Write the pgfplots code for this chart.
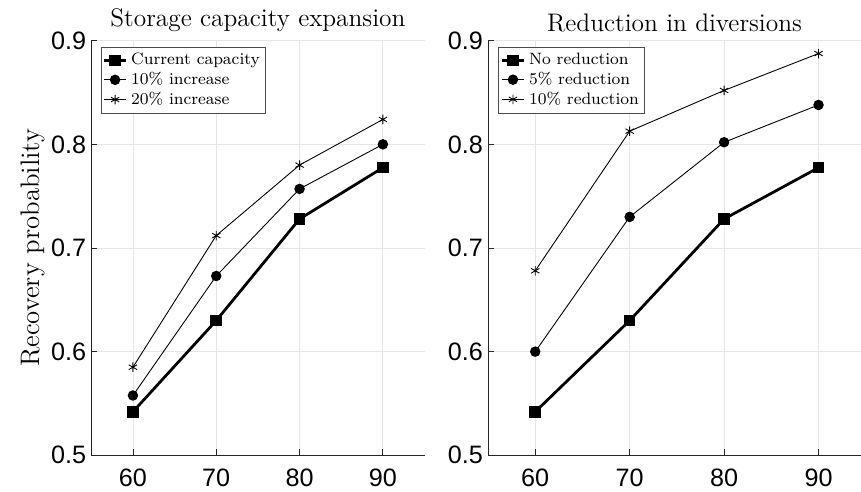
\documentclass[border=0pt]{standalone}
\usepackage{fontspec}
\newfontfamily\ticksf{Liberation Sans}
\usepackage{pgfplots}
\pgfplotsset{compat=1.18}
\definecolor{gridc}{HTML}{E6E6E6}
\definecolor{axc}{HTML}{262626}

\pgfplotsset{
  panel/.style={
    scale only axis,
    height=209pt,
    xmin=55, ymin=0.5, ymax=0.9,
    xtick={60,70,80,90}, ytick={0.5,0.6,0.7,0.8,0.9},
    axis x line*=bottom, axis y line*=left,
    axis line style={axc,line width=0.4pt},
    tick align=inside, major tick length=3pt,
    tick style={axc,line width=0.4pt},
    grid=major, major grid style={gridc,line width=0.4pt},
    /pgf/number format/assume math mode=true,
    yticklabel style={/pgf/number format/fixed,/pgf/number format/precision=1,/pgf/number format/fixed zerofill,xshift=1pt},
    xticklabel style={inner sep=0pt,yshift=-6.8pt},
    tick label style={font=\ticksf\fontsize{12.7}{14}\selectfont,text=black},
    title style={font=\fontsize{12.8}{14}\selectfont,yshift=-5pt},
    legend style={at={(0.028,0.985)},anchor=north west,font=\fontsize{8.3}{10}\selectfont,
                  draw=black!70,line width=0.4pt,inner sep=1pt,row sep=-1.8pt,
                  /tikz/every even column/.append style={column sep=0pt}},
    legend cell align=left,
    legend image code/.code={\draw[mark repeat=2,mark phase=2]
      plot coordinates {(0cm,0cm) (0.19cm,0cm) (0.38cm,0cm)};},
  },
  thick0/.style={black,line width=1.4pt,mark=square*,mark size=2.2pt,mark options={solid}},
  thin1/.style={black,line width=0.45pt,mark=*,mark size=2.4pt},
  thin2/.style={black,line width=0.45pt,mark=asterisk,mark size=2.4pt,mark options={line width=0.45pt}},
}

\begin{document}
\begin{tikzpicture}
  \useasboundingbox (-46pt,-18pt) rectangle (388pt,229.5pt);
  \begin{axis}[panel,width=168pt,xmax=95,
    title={Storage capacity expansion},
    ylabel={Recovery probability},
    ylabel style={font=\fontsize{13.5}{15}\selectfont,yshift=-3.5pt},
  ]
    \addplot[thick0] coordinates {(60,0.542) (70,0.630) (80,0.728) (90,0.7775)};
    \addplot[thin1] coordinates {(60,0.5577) (70,0.673) (80,0.757) (90,0.800)};
    \addplot[thin2] coordinates {(60,0.585) (70,0.712) (80,0.780) (90,0.824)};
    \legend{Current capacity,10\% increase,20\% increase}
  \end{axis}
  \begin{axis}[panel,width=188pt,xmax=94.5,at={(200pt,0)},
    title={Reduction in diversions},
  ]
    \addplot[thick0] coordinates {(60,0.542) (70,0.630) (80,0.728) (90,0.7775)};
    \addplot[thin1] coordinates {(60,0.600) (70,0.730) (80,0.802) (90,0.838)};
    \addplot[thin2] coordinates {(60,0.678) (70,0.8127) (80,0.852) (90,0.8876)};
    \legend{No reduction,5\% reduction,10\% reduction}
  \end{axis}
\end{tikzpicture}
\end{document}
